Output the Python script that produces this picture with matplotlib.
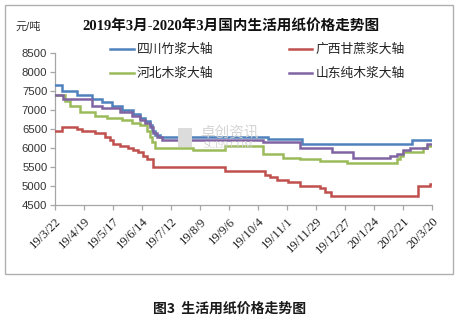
import matplotlib
matplotlib.use("Agg")
import matplotlib.pyplot as plt
from matplotlib.patches import Rectangle
import pandas as pd

plt.rcParams['font.family'] = ['Liberation Sans', 'Noto Sans CJK SC']

# ---- data: price change points (yuan / ton) ----
tick_labels = ['19/3/22', '19/4/19', '19/5/17', '19/6/14', '19/7/12', '19/8/9',
               '19/9/6', '19/10/4', '19/11/1', '19/11/29', '19/12/27',
               '20/1/24', '20/2/21', '20/3/20']

series_names = ['四川竹浆大轴', '广西甘蔗浆大轴', '河北木浆大轴', '山东纯木浆大轴']
series_colors = ['#4F81BD', '#C0504D', '#9BBB59', '#8064A2']

sichuan_dates = ['2019-03-22', '2019-03-29', '2019-04-12', '2019-04-27', '2019-05-06',
                 '2019-05-16', '2019-05-26', '2019-06-05', '2019-06-12', '2019-06-17',
                 '2019-06-22', '2019-06-24', '2019-06-27', '2019-07-01', '2019-10-14',
                 '2019-11-15', '2020-03-01', '2020-03-20']
sichuan_prices = [7650, 7500, 7400, 7300, 7200,
                  7100, 7000, 6900, 6800, 6700,
                  6600, 6450, 6350, 6300, 6250,
                  6100, 6200, 6200]

guangxi_dates = ['2019-03-22', '2019-03-29', '2019-04-12', '2019-04-17', '2019-04-30',
                 '2019-05-09', '2019-05-14', '2019-05-17', '2019-05-24', '2019-05-31',
                 '2019-06-05', '2019-06-10', '2019-06-15', '2019-06-19', '2019-06-25',
                 '2019-09-02', '2019-10-11', '2019-10-16', '2019-10-22', '2019-11-02',
                 '2019-11-14', '2019-12-03', '2019-12-08', '2019-12-13', '2020-03-06',
                 '2020-03-18', '2020-03-20']
guangxi_prices = [6450, 6550, 6500, 6450, 6400,
                  6300, 6200, 6100, 6050, 6000,
                  5950, 5900, 5800, 5700, 5500,
                  5400, 5300, 5250, 5150, 5100,
                  5000, 4950, 4850, 4750, 5000,
                  5050, 5050]

hebei_dates = ['2019-03-22', '2019-04-01', '2019-04-05', '2019-04-15', '2019-04-30',
               '2019-05-11', '2019-05-26', '2019-06-04', '2019-06-12', '2019-06-19',
               '2019-06-22', '2019-06-24', '2019-06-27', '2019-08-02', '2019-09-02',
               '2019-10-09', '2019-10-28', '2019-11-14', '2019-12-03', '2019-12-29',
               '2020-02-15', '2020-02-18', '2020-02-21', '2020-03-11', '2020-03-15',
               '2020-03-20']
hebei_prices = [7400, 7250, 7100, 6950, 6850,
                6800, 6750, 6650, 6600, 6450,
                6300, 6150, 6000, 5950, 6050,
                5850, 5750, 5700, 5650, 5600,
                5700, 5800, 5900, 6000, 6050,
                6050]

shandong_dates = ['2019-03-22', '2019-03-30', '2019-04-27', '2019-05-06', '2019-05-24',
                  '2019-06-04', '2019-06-12', '2019-06-17', '2019-06-22', '2019-06-25',
                  '2019-06-28', '2019-07-03', '2019-10-09', '2019-11-14', '2019-12-14',
                  '2020-01-04', '2020-02-08', '2020-02-15', '2020-02-21', '2020-02-28',
                  '2020-03-15', '2020-03-20']
shandong_prices = [7400, 7300, 7100, 7050, 6950,
                   6850, 6750, 6650, 6550, 6400,
                   6300, 6200, 6150, 6000, 5900,
                   5750, 5800, 5850, 5950, 6000,
                   6100, 6100]

y_ticks = [4500, 5000, 5500, 6000, 6500, 7000, 7500, 8000, 8500]

# ---- figure ----
W, H = 460, 322
fig = plt.figure(figsize=(W / 100, H / 100), dpi=100)
fig.patch.set_facecolor('white')

def fx(px):
    return px / W

def fy(py):
    return 1 - py / H

# outer frame
fig.patches.append(Rectangle((fx(5), fy(274)), fx(448), 269 / H, transform=fig.transFigure,
                             fill=False, edgecolor='#b0b0b0', lw=1.0))

ax = fig.add_axes([fx(55), fy(205), fx(432) - fx(55), fy(53) - fy(205)])
ax.set_facecolor('none')

all_dates = [sichuan_dates, guangxi_dates, hebei_dates, shandong_dates]
all_prices = [sichuan_prices, guangxi_prices, hebei_prices, shandong_prices]
lines = []
for name, color, d, p in zip(series_names, series_colors, all_dates, all_prices):
    ln, = ax.plot(pd.to_datetime(d), p, drawstyle='steps-post', color=color,
                  lw=1.8, label=name, zorder=3, solid_joinstyle='miter')
    lines.append(ln)

tick_dates = [pd.Timestamp(2000 + int(t.split('/')[0]), int(t.split('/')[1]), int(t.split('/')[2]))
              for t in tick_labels]
ax.set_xlim(tick_dates[0], tick_dates[-1])
ax.set_ylim(4500, 8500)
ax.set_xticks(tick_dates)
ax.set_xticklabels(tick_labels, rotation=45, ha='right', rotation_mode='anchor',
                   fontfamily=['Liberation Serif'], fontsize=9.2, color='#222222')
ax.set_yticks(y_ticks)
ax.set_yticklabels([str(v) for v in y_ticks], fontsize=8.2, color='#333333')

for side in ['top', 'right']:
    ax.spines[side].set_visible(False)
for side in ['left', 'bottom']:
    ax.spines[side].set_color('#a6a6a6')
    ax.spines[side].set_linewidth(0.9)
ax.tick_params(axis='both', colors='#a6a6a6', length=3.5, width=0.9)
ax.tick_params(axis='y', labelcolor='#333333', pad=2)
ax.tick_params(axis='x', labelcolor='#222222', pad=4)

# faint watermark
fig.patches.append(Rectangle((fx(178), fy(147)), fx(14), 19 / H, transform=fig.transFigure,
                             facecolor='#dcdcdc', edgecolor='none', zorder=0))
fig.text(fx(230), fy(133), '卓创资讯', fontsize=10.5, color='#d4d4d4', ha='center', va='center',
         family=['Noto Sans CJK SC'], zorder=0)
fig.text(fx(228), fy(145), 'SCI99.COM', fontsize=7, color='#d4d4d4', ha='center', va='center',
         family=['Liberation Serif'], zorder=0)

# legend: two columns
order = [0, 2, 1, 3]
leg = fig.legend([lines[i] for i in order], [series_names[i] for i in order],
                 ncol=2, loc='upper left', bbox_to_anchor=(fx(110), fy(44)),
                 bbox_transform=fig.transFigure, frameon=False, fontsize=9.2,
                 handlelength=1.85, handletextpad=0.25, columnspacing=5.9,
                 labelspacing=0.95, borderpad=0, borderaxespad=0)
for t in leg.get_texts():
    t.set_color('#222222')

# titles
fig.text(fx(231), fy(26), '2019年3月-2020年3月国内生活用纸价格走势图', fontsize=10.5,
         fontweight='bold', ha='center', va='center',
         family=['Liberation Serif', 'Noto Sans CJK SC'], color='#111111')
fig.text(fx(28), fy(27), '元/吨', fontsize=8, ha='center', va='center', color='#333333')
fig.text(fx(230), fy(309), '图3  生活用纸价格走势图', fontsize=10, fontweight='bold',
         ha='center', va='center', color='#1a1a1a',
         family=['Noto Sans CJK SC', 'Liberation Sans'])

fig.savefig('out.png', dpi=100)
